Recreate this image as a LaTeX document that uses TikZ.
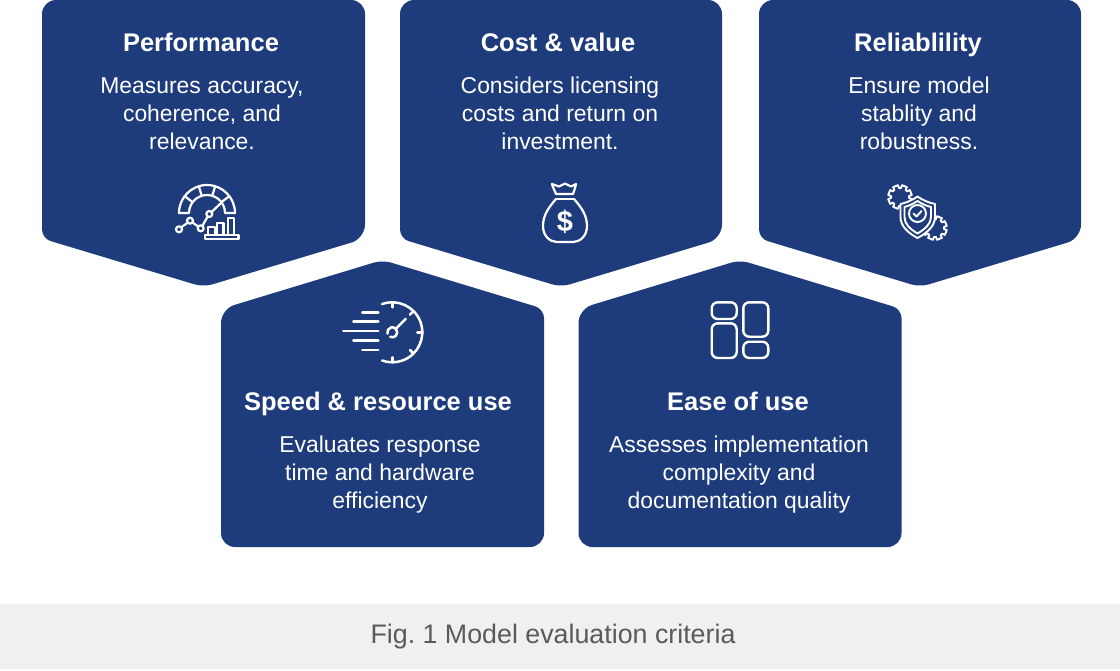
\documentclass[tikz,border=0pt]{standalone}
\usepackage{fontspec}
\setmainfont{Liberation Sans}
\definecolor{cardblue}{HTML}{1E3C7C}
\definecolor{bandgrey}{HTML}{F0F0F0}
\definecolor{capgrey}{HTML}{5A5A5A}
\tikzset{
  cardshape/.style={fill=cardblue,draw=none},
  cardtitle/.style={text=white,font=\fontsize{25.5}{28}\selectfont\bfseries,anchor=base,inner sep=0pt},
  cardbody/.style={text=white,font=\fontsize{22.9}{28}\selectfont,align=center,anchor=center,inner sep=0pt},
  captiontext/.style={text=capgrey,font=\fontsize{26.8}{28}\selectfont,anchor=base,inner sep=0pt},
  icon/.style={draw=white,line width=2.2pt,line cap=round,line join=round},
}
\newcommand{\upcard}[1]{%
  \begin{scope}[xshift=#1pt]
  \fill[cardshape] (161.5,547) [rounded corners=14pt] -- (0,547) -- (0,309) [rounded corners=9pt] -- (161.5,260) -- (323,309) [rounded corners=14pt] -- (323,547) [sharp corners] -- cycle;
  \end{scope}}
\begin{document}
\frenchspacing
\begin{tikzpicture}[x=1pt,y=-1pt]
\useasboundingbox (0,0) rectangle (1120,670);
\fill[white] (0,0) rectangle (1120,670);
\fill[cardshape] (42,14) arc (180:270:14) -- (351,0) arc (270:360:14) [rounded corners=14pt] -- (365,238.5) [rounded corners=9pt] -- (203.5,287) -- (42,238.5) [sharp corners] -- cycle;
\fill[cardshape] (400,14) arc (180:270:14) -- (708,0) arc (270:360:14) [rounded corners=14pt] -- (722,238.5) [rounded corners=9pt] -- (561,287) -- (400,238.5) [sharp corners] -- cycle;
\fill[cardshape] (759,14) arc (180:270:14) -- (1067,0) arc (270:360:14) [rounded corners=14pt] -- (1081,238.5) [rounded corners=9pt] -- (920,287) -- (759,238.5) [sharp corners] -- cycle;
\upcard{221}
\upcard{578.5}
\fill[bandgrey] (0,604) rectangle (1120,669);

% titles and bodies
\node[cardtitle] (t1) at (201,51) {Performance};
\node[cardbody] (b1) at (202,114) {Measures accuracy,\\coherence, and\\relevance.};
\node[cardtitle] (t2) at (558,51) {Cost \& value};
\node[cardbody] (b2) at (560,113) {Considers licensing\\costs and return on\\investment.};
\node[cardtitle] (t3) at (918,51) {Reliablility};
\node[cardbody] (b3) at (919,113) {Ensure model\\stablity and\\robustness.};
\node[cardtitle] (t4) at (378,410) {Speed \& resource use};
\node[cardbody] (b4) at (380,475) {Evaluates response\\time and hardware\\efficiency};
\node[cardtitle] (t5) at (738,410) {Ease of use};
\node[cardbody] (b5) at (739,475) {Assesses implementation\\complexity and\\documentation quality};
\node[captiontext] (cap) at (553,643) {Fig. 1 Model evaluation criteria};

% gauge icon
\begin{scope}[icon]
\coordinate (gc) at (207,213);
\draw ([shift={(180:28)}]gc) arc (180:360:28) -- ++(-10,0) arc (360:180:18) -- cycle;
\foreach \a in {217,253,287,323}{\draw ([shift={(\a:18)}]gc) -- ([shift={(\a:28)}]gc);}
\draw (209.3,214) circle (3);
\draw (211.5,212) -- (220,204);
\draw (179,229.3) circle (3);
\draw (190,220.7) circle (3);
\draw (200.7,228.3) circle (3);
\draw (181.2,227.3) -- (187.7,222.7);
\draw (192.5,222.5) -- (198.2,226.5);
\draw (202.4,225.8) -- (207.6,216.6);
\draw (205,235) rectangle (238.5,239.3);
\draw (208.3,235) -- (208.3,227.3) -- (215,227.3) -- (215,235);
\draw (217,235) -- (217,222.7) -- (223.5,222.7) -- (223.5,235);
\draw (228.3,235) -- (228.3,217.7) -- (234,217.7) -- (234,235);
\end{scope}

% money bag icon
\begin{scope}[icon]
\draw (556,194) .. controls (555,191) and (552.5,187) .. (552,184) -- (559,186.5) -- (565,183.5) -- (571,186.5) -- (576,184) .. controls (575.5,187) and (574,191) .. (573,194) -- cycle;
\draw (556,199) -- (574,199);
\draw (556,199) .. controls (549,207) and (543,215) .. (543,226) .. controls (543,236) and (550,242) .. (557,242) -- (573,242) .. controls (580,242) and (587,236) .. (587,226) .. controls (587,215) and (581,207) .. (574,199);
\end{scope}
\node[text=white,font=\fontsize{29}{29}\selectfont\bfseries,inner sep=0pt] (dollar) at (565,222) {\$};

% shield + gears icon
\begin{scope}[icon,line width=1.9pt]
\foreach \c/\r in {{(900,197)}/9,{(935,228)}/9}{
  \draw[shift={\c}] (0:\r)
    \foreach \k in {0,1,...,7}{
      -- (\k*45+6:\r+0) -- (\k*45+10:\r+3) -- (\k*45+35:\r+3) -- (\k*45+39:\r)
    } -- cycle;
}
\draw[fill=cardblue] (917.5,196.5) .. controls (911,201) and (905,203) .. (900.5,204) -- (900.5,217) .. controls (900.5,226) and (908,233) .. (917.5,238) .. controls (927,233) and (935,226) .. (935,217) -- (935,204) .. controls (930,203) and (924,201) .. (917.5,196.5) -- cycle;
\draw (917.5,201) .. controls (912,204.5) and (908,206) .. (904.5,207) -- (904.5,217) .. controls (904.5,224) and (910,229) .. (917.5,233.5) .. controls (925,229) and (931,224) .. (931,217) -- (931,207) .. controls (927,206) and (923,204.5) .. (917.5,201) -- cycle;
\draw (917.5,213.5) circle (8.5);
\draw (913.5,213.5) -- (916.5,216.5) -- (921.5,211);
\end{scope}

% speed icon
\begin{scope}[icon,line width=2.5pt]
\coordinate (sc) at (392.3,332.3);
\draw ([shift={(-110:30)}]sc) arc (-110:110:30);
\foreach \a in {-90,-45,0,45,90}{\draw ([shift={(\a:30)}]sc) -- ([shift={(\a:25)}]sc);}
\draw ([shift={(165:5)}]sc) arc (165:315:5);
\draw ([shift={(-45:5)}]sc) arc (-45:115:5);
\draw ([shift={(-45:5)}]sc) -- ([shift={(-45:19)}]sc);
\draw (362.3,312.3) -- (378.3,312.3);
\draw (353.3,321.7) -- (378.3,321.7);
\draw (343.3,331) -- (378.3,331);
\draw (353.3,340.3) -- (378.3,340.3);
\draw (362.3,350) -- (378.3,350);
\end{scope}

% layout icon
\begin{scope}[icon,line width=2.4pt]
\draw[rounded corners=6pt] (711.7,302.3) rectangle (736.7,319);
\draw[rounded corners=6pt] (711.7,323.3) rectangle (736.7,358);
\draw[rounded corners=6pt] (743.3,302.3) rectangle (768.3,336.7);
\draw[rounded corners=6pt] (743.3,341.7) rectangle (768.3,358);
\end{scope}
\end{tikzpicture}
\end{document}
